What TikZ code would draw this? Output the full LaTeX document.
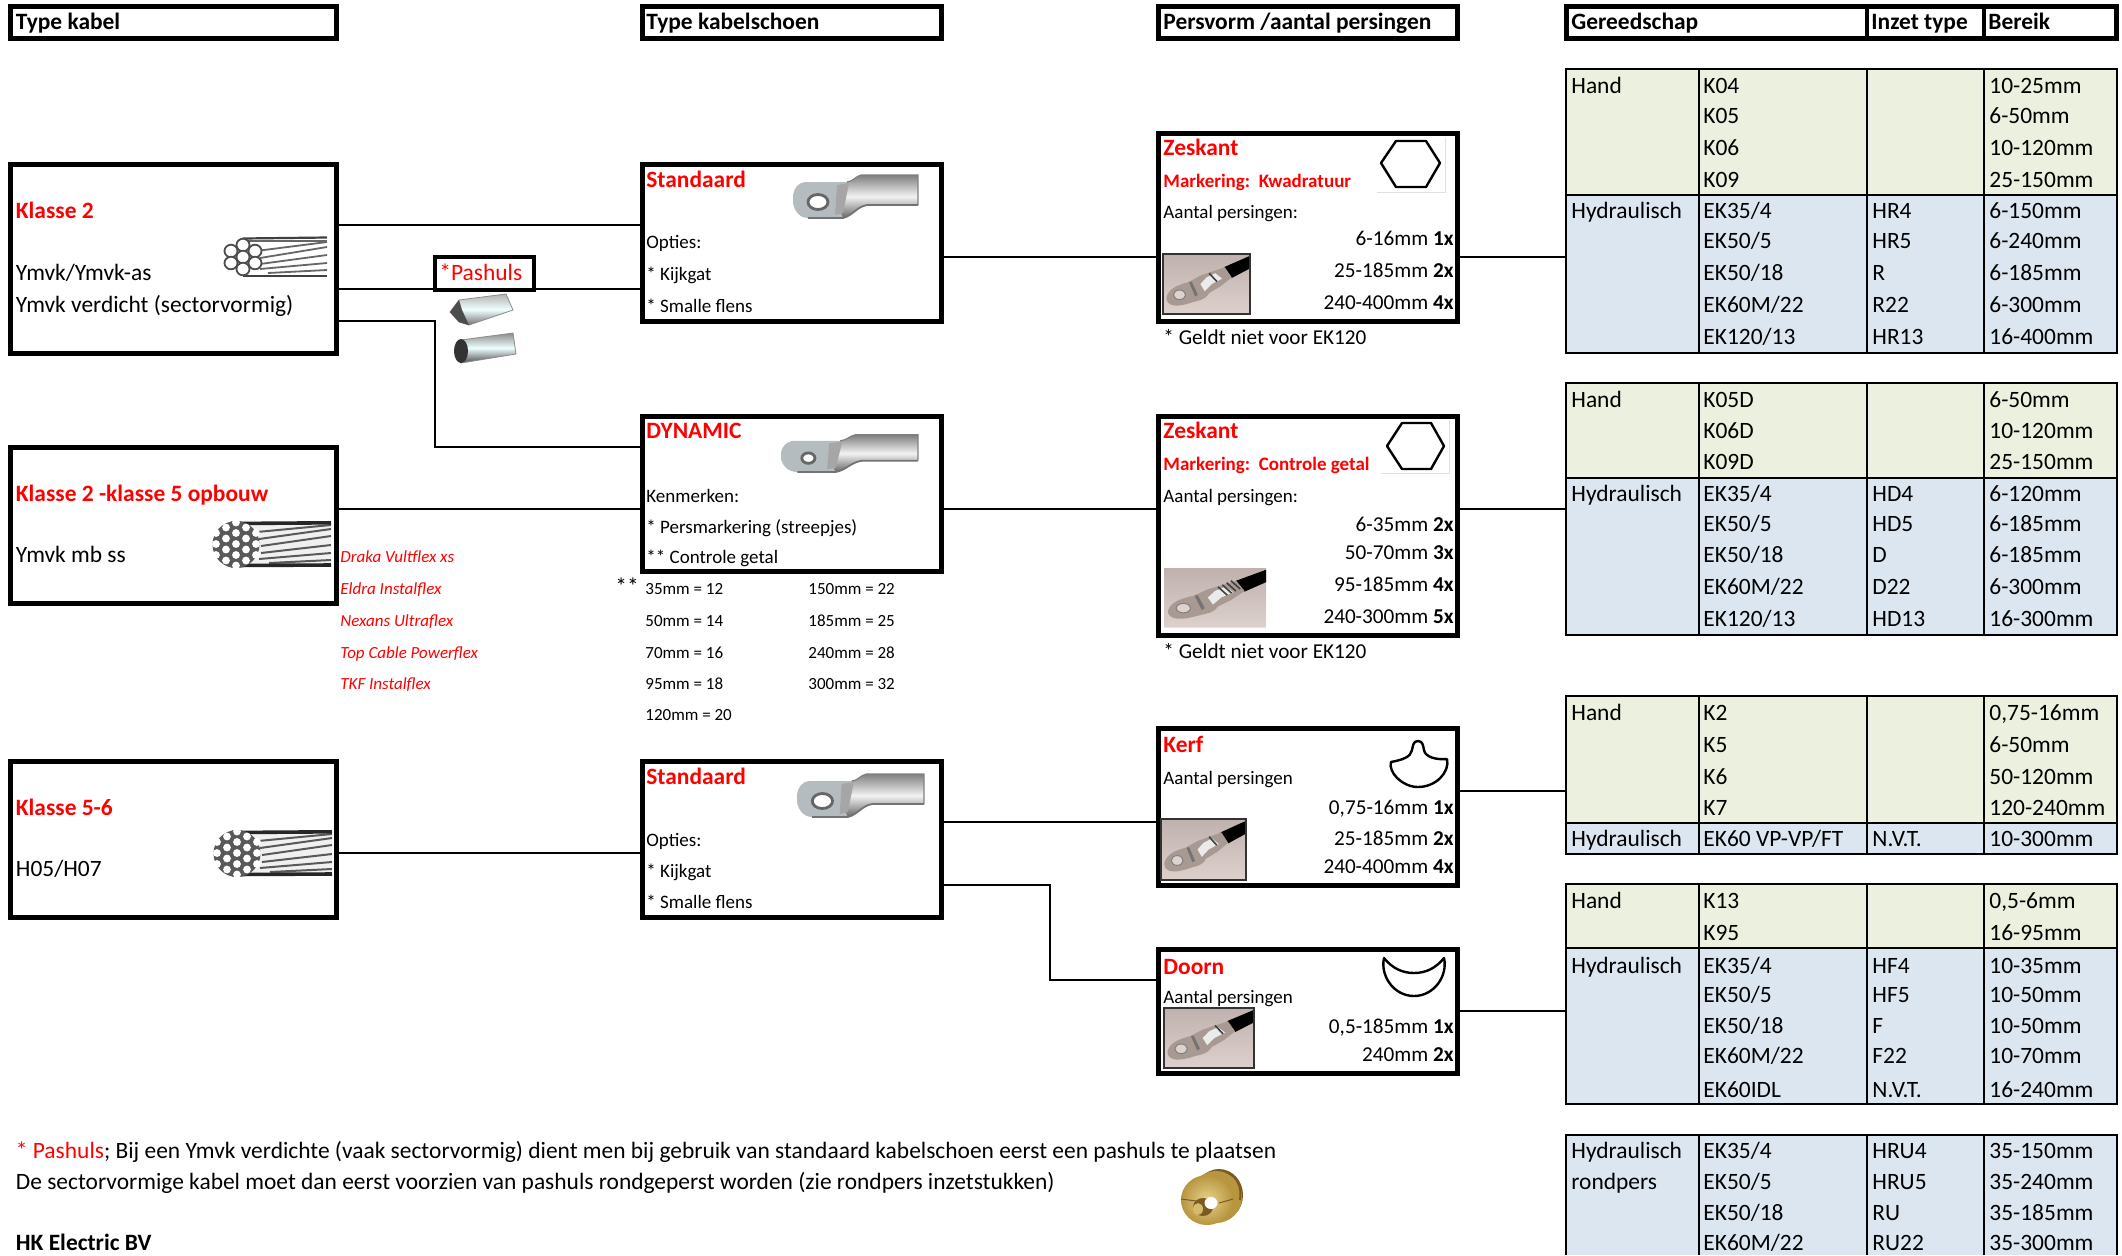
\documentclass[tikz,border=0pt]{standalone}
\usepackage{fontspec}
\setmainfont{Carlito}
\usetikzlibrary{calc}
\definecolor{tgreen}{HTML}{EBF1DE}
\definecolor{tblue}{HTML}{DCE6F1}
\definecolor{hred}{HTML}{FF0000}
\definecolor{photobg}{HTML}{D6C7C3}
\definecolor{lugsilver}{HTML}{B4BCC0}
\definecolor{photolug}{HTML}{A89A92}
\definecolor{brassA}{HTML}{E6D28C}
\definecolor{brassB}{HTML}{B8963F}
\definecolor{brassC}{HTML}{7A5A20}
\newcount\tn
\newcommand\fb{\fontsize{11.72}{13}\selectfont}
\newcommand\fm{\fontsize{10.6}{12}\selectfont}
\newcommand\fs{\fontsize{9.5}{11}\selectfont}
\newcommand\ft{\fontsize{8.5}{10}\selectfont}
\tikzset{
  x=0.5pt,y=-0.5pt,
  boxnode/.style={draw=black,line width=2.5pt,fill=white,rectangle,inner sep=0pt},
  conn/.style={draw=black,line width=1.25pt},
  tline/.style={draw=black,line width=1.1pt},
  base/.style={inner sep=0pt,text height=7.5pt,text depth=0pt,font=\fb,anchor=west,text=black},
  bodytxt/.style={base},
  midtxt/.style={base,font=\fm,text height=6.8pt},
  lefttxt/.style={base,font=\fs,text height=6.1pt},
  righttxt/.style={base,font=\fm,text height=6.8pt,anchor=east},
  redb/.style={base,font=\fb\bfseries,text=hred},
  redm/.style={base,font=\fs\bfseries,text=hred,text height=6.1pt},
  redi/.style={base,font=\ft\itshape,text=hred,text height=5.5pt},
  tinytxt/.style={base,font=\ft,text height=5.5pt},
  headtxt/.style={base,font=\fb\bfseries},
  shapeline/.style={draw=black,line width=1.2pt,fill=white,line join=round},
  framel/.style={draw=black!12,line width=0.4pt},
}
% outer-edge box
\newcommand\bx[5]{\node[boxnode,minimum width={(#4-#2-5)*0.5pt},minimum height={(#5-#3-5)*0.5pt}] (#1) at ({(#2+#4)/2},{(#3+#5)/2}) {};}
\newcommand\tx[4]{\global\advance\tn by 1 \node[#1] (n\the\tn) at (#2,#3) {#4};}
\newcommand\hconn[3]{\draw[conn] (#1.east |- 0,#3) -- (#2.west |- 0,#3);}
\newcommand\trow[5]{%
 \if\relax\detokenize{#2}\relax\else\tx{bodytxt}{1571}{#1}{#2}\fi
 \tx{bodytxt}{1703}{#1}{#3}%
 \if\relax\detokenize{#4}\relax\else\tx{bodytxt}{1872}{#1}{#4}\fi
 \tx{bodytxt}{1989}{#1}{#5}}
% wire, 7 strands: box 105 x 39
\newcommand\wireA[2]{\begin{scope}[shift={(#1,#2)}]
  \foreach \a/\b/\c/\d in {34/13/105/4,38/20/105/9,38/26/105/17,38/31/105/25,46/35/105/32}
    {\draw[black!60,line width=0.9pt] (\a,\b) -- (\c,\d);}
  \draw[black!75,line width=1.1pt] (21,0.5) -- (105,-0.5);
  \draw[black!75,line width=1.1pt] (21,38) -- (105,38);
  \draw[black!60,line width=0.9pt] (26,3) -- (105,3);
  \foreach \p/\q in {21/7,21/19,21/31,9/13,33/13,9/25,33/25}
    {\draw[black!70,line width=0.9pt,fill=white] (\p,\q) ellipse (6.5 and 6.3);}
\end{scope}}
% wire, 19 strands: box 120 x 45
\newcommand\wireB[2]{\begin{scope}[shift={(#1,#2)}]
  \fill[black!6] (24,2) -- (120,0) -- (120,45) -- (24,44) -- cycle;
  \foreach \a/\b/\c/\d in {46/10/120/3,48/17/120/7,50/24/120/14,50/31/120/23,48/37/120/31,58/41/120/38}
    {\draw[black!65,line width=1pt] (\a,\b) -- (\c,\d);}
  \draw[black!85,line width=1.8pt] (20,1.5) -- (120,0.8);
  \draw[black!85,line width=1.8pt] (20,43.5) -- (120,43);
  \fill[black!65] (25,22.5) circle (23.5);
  \foreach \p/\q in {25/22,25/11,25/33,15/16.5,15/27.5,35/16.5,35/27.5,5/22,45/22,5/11,5/33,45/11,45/33,15/5.5,15/38.5,35/5.5,35/38.5,25/0.5,25/43.5}
    {\fill[white] (\p,\q) circle (3.9);}
\end{scope}}
% lug, box 126 x 45; args x y w h holerx holery
\newcommand\lugpic[6]{\begin{scope}[shift={(#1,#2)},xscale={#3/126},yscale={#4/45}]
  \fill[lugsilver] (12,9) -- (54,9) to[out=5,in=195] (68,2) -- (70,32) to[out=190,in=15] (50,45) -- (15,45) to[out=180,in=280] (0,30) -- (0,22) to[out=80,in=185] (12,9) -- cycle;
  \shade[top color=black!50,bottom color=black!60,middle color=black!5]
    (54,9) to[out=5,in=195] (68,2) -- (125,2) -- (125,32) -- (74,32) to[out=190,in=15] (50,45) -- (46,35) -- cycle;
  \fill[black!35] (44,12) -- (56,10) -- (50,40) -- (42,42) -- cycle;
  \draw[black!55,line width=0.9pt] (15,45) -- (50,45) to[out=15,in=190] (74,32) -- (125,32);
  \draw[black!50,line width=0.6pt] (54,9) to[out=5,in=195] (68,2) -- (125,2) -- (125,32);
  \draw[black!60,line width=1.4pt,fill=white] (25,29) ellipse (#5 and #6);
\end{scope}}
% photo of a crimped lug, unit box 100 x 100
\newcommand\photopic[6]{\begin{scope}[shift={(#1,#2)},xscale={#3/100},yscale={#4/100}]
  \fill[photobg] (0,0) rectangle (100,100);
  \shade[top color=photobg!85!black,bottom color=photobg!75!white,opacity=.7] (0,0) rectangle (100,100);
  \fill[black] (100,3) -- (100,24) -- (79,40) -- (70,22) -- cycle;
  \fill[photolug] (71,22) -- (79,39) -- (66,54) -- (53,65) to[out=250,in=20] (40,78) to[out=200,in=0] (14,86) to[out=180,in=260] (4,72) to[out=80,in=200] (29,47) -- (43,36) -- cycle;
  \fill[black!8] (60,32) -- (68,41) -- (56,50) -- (48,62) -- (43,50) -- (50,39) -- cycle;
  \fill[black!55] (30,47) -- (33,46) -- (40,68) -- (37,71) -- cycle;
  \fill[photobg!80!white,draw=black!50,line width=0.5pt] (19,68) ellipse (7 and 8);
  \foreach \t in {#6}{\draw[black!75,line width=0.8pt] ({53+\t*6},{32-\t*5}) -- ({62+\t*6},{46-\t*5});}
  \if#5b\draw[black!80,line width=0.7pt] (0,0) rectangle (100,100);\fi
\end{scope}}
\begin{document}
\begin{tikzpicture}
\useasboundingbox (0,0) rectangle (2122,1255);
\fill[white] (0,0) rectangle (2122,1255);

% headers
\bx{hA}{8}{4}{339}{41}
\bx{hB}{640}{4}{944}{41}
\bx{hC}{1156}{4}{1460}{41}
\bx{hD}{1564}{4}{2119}{41}
\coordinate (hDa) at (1867,4);\coordinate (hDb) at (1867,41);
\coordinate (hDc) at (1984,4);\coordinate (hDd) at (1984,41);
\draw[black,line width=1.6pt] (hDa) -- (hDb) (hDc) -- (hDd);
\tx{headtxt}{15.5}{22}{Type kabel}
\tx{headtxt}{646}{22}{Type kabelschoen}
\tx{headtxt}{1163}{22}{Persvorm /aantal persingen}
\tx{headtxt}{1571}{22}{Gereedschap}
\tx{headtxt}{1871}{22}{Inzet type}
\tx{headtxt}{1988}{22}{Bereik}

% boxes
\bx{kA}{8}{162}{339}{356}
\bx{kB}{8}{445}{339}{606}
\bx{kC}{8}{759}{339}{920}
\bx{sA}{640}{162}{944}{324}
\bx{sB}{640}{414}{944}{574}
\bx{sC}{640}{759}{944}{920}
\bx{zA}{1156}{131}{1460}{324}
\bx{zB}{1156}{414}{1460}{638}
\bx{zC}{1156}{726}{1460}{888}
\bx{zD}{1156}{947}{1460}{1076}
\node[boxnode,line width=2.2pt,minimum width={(536-433-4.4)*0.5pt},minimum height={(292-255-4.4)*0.5pt}] (pash) at (484.5,273.5) {};

% table anchors
\coordinate (tA) at (1566,257);
\coordinate (tB) at (1566,509);
\coordinate (tC) at (1566,791);
\coordinate (tD) at (1566,1011);
\coordinate (elbA) at (435,447);
\coordinate (elbB) at (1050,885);
\coordinate (elbC) at (1050,980);

% connectors
\hconn{kA}{sA}{225}
\draw[conn] (kA.east |- 0,289) -- (pash.west |- 0,289);
\draw[conn] (pash.east |- 0,289) -- (sA.west |- 0,289);
\draw[conn] (kA.east |- 0,321) -| (elbA) -- (sB.west |- elbA);
\hconn{kB}{sB}{509}
\hconn{kC}{sC}{853}
\hconn{sA}{zA}{257}
\hconn{sB}{zB}{509}
\hconn{sC}{zC}{822}
\draw[conn] (sC.east |- elbB) -- (elbB) -- (elbC) -- (zD.west |- elbC);
\draw[conn] (zA.east |- tA) -- (tA);
\draw[conn] (zB.east |- tB) -- (tB);
\draw[conn] (zC.east |- tC) -- (tC);
\draw[conn] (zD.east |- tD) -- (tD);

% left column
\tx{redb}{15.5}{211}{Klasse 2}
\tx{bodytxt}{15.5}{273}{Ymvk/Ymvk-as}
\tx{bodytxt}{15.5}{305}{Ymvk verdicht (sectorvormig)}
\tx{redb}{15.5}{494}{Klasse 2 -klasse 5 opbouw}
\tx{bodytxt}{15.5}{555}{Ymvk mb ss}
\tx{redb}{15.5}{808}{Klasse 5-6}
\tx{bodytxt}{15.5}{869}{H05/H07}
\wireA{222}{238}
\wireB{211}{522}
\wireB{212}{831}
\tx{base,text=hred}{439}{273}{*Pashuls}
% pashuls pictures
\shade[top color=black!30,bottom color=black!55,middle color=cyan!6!white,draw=black!45,line width=0.4pt] (459,300) -- (506,294) -- (513,310) -- (469,325) -- (459,322) -- (450,312) -- cycle;
\fill[black!70] (459,300) -- (450,312) -- (459,322) -- (469,325) -- (462,310) -- cycle;
\shade[top color=black!45,bottom color=black!70,middle color=cyan!6!white,draw=black!45,line width=0.4pt] (461,340) -- (513,333) -- (516,354) -- (461,363) -- cycle;
\fill[black!80] (461,351) ellipse (7 and 12);

% red cable list
\tx{redi}{340}{557}{Draka Vultflex xs}
\tx{redi}{340}{589}{Eldra Instalflex}
\tx{redi}{340}{621}{Nexans Ultraflex}
\tx{redi}{340}{653}{Top Cable Powerflex}
\tx{redi}{340}{684}{TKF Instalflex}

% lug boxes
\tx{redb}{646}{180}{Standaard}
\tx{lefttxt}{646}{242}{Opties:}
\tx{lefttxt}{646}{274}{* Kijkgat}
\tx{lefttxt}{646}{306}{* Smalle flens}
\lugpic{793}{173}{126}{45}{10}{7.5}
\tx{redb}{646}{431}{DYNAMIC}
\tx{lefttxt}{646}{496}{Kenmerken:}
\tx{lefttxt}{646}{527}{* Persmarkering (streepjes)}
\tx{lefttxt}{646}{557}{** Controle getal}
\lugpic{781}{433}{138}{39}{6}{6}
\tx{redb}{646}{777}{Standaard}
\tx{lefttxt}{646}{840}{Opties:}
\tx{lefttxt}{646}{871}{* Kijkgat}
\tx{lefttxt}{646}{902}{* Smalle flens}
\lugpic{797}{772}{128}{45}{10}{7.5}

% control numbers
\tx{bodytxt}{615}{587}{**}
\tx{tinytxt}{645}{589}{35mm = 12}
\tx{tinytxt}{645}{621}{50mm = 14}
\tx{tinytxt}{645}{653}{70mm = 16}
\tx{tinytxt}{645}{684}{95mm = 18}
\tx{tinytxt}{645}{715}{120mm = 20}
\tx{tinytxt}{808}{589}{150mm = 22}
\tx{tinytxt}{808}{621}{185mm = 25}
\tx{tinytxt}{808}{653}{240mm = 28}
\tx{tinytxt}{808}{684}{300mm = 32}

% press forms
\tx{redb}{1163}{148}{Zeskant}
\tx{redm}{1163}{181}{Markering:\ \ Kwadratuur}
\tx{lefttxt}{1163}{212}{Aantal persingen:}
\tx{righttxt}{1454}{239}{6-16mm \textbf{1x}}
\tx{righttxt}{1454}{271}{25-185mm \textbf{2x}}
\tx{righttxt}{1454}{303}{240-400mm \textbf{4x}}
\photopic{1163}{254}{87}{60}{b}{0}
\draw[framel] (1445,138) -- (1445,192) -- (1377,192);
\draw[shapeline] (1381,163) -- (1396,141) -- (1426,141) -- (1440,163) -- (1426,187) -- (1396,187) -- cycle;
\tx{midtxt}{1163}{338}{* Geldt niet voor EK120}

\tx{redb}{1163}{431}{Zeskant}
\tx{redm}{1163}{464}{Markering:\ \ Controle getal}
\tx{lefttxt}{1163}{496}{Aantal persingen:}
\tx{righttxt}{1454}{525}{6-35mm \textbf{2x}}
\tx{righttxt}{1454}{553}{50-70mm \textbf{3x}}
\tx{righttxt}{1454}{585}{95-185mm \textbf{4x}}
\tx{righttxt}{1454}{617}{240-300mm \textbf{5x}}
\photopic{1164}{568}{102}{59}{n}{0,0.7,1.4,2.1}
\draw[framel] (1449,420) -- (1449,473) -- (1381,473);
\draw[shapeline] (1387,446) -- (1402,423) -- (1431,423) -- (1444,446) -- (1431,469) -- (1402,469) -- cycle;
\tx{midtxt}{1163}{652}{* Geldt niet voor EK120}

\tx{redb}{1163}{745}{Kerf}
\tx{lefttxt}{1163}{778}{Aantal persingen}
\tx{righttxt}{1454}{808}{0,75-16mm \textbf{1x}}
\tx{righttxt}{1454}{839}{25-185mm \textbf{2x}}
\tx{righttxt}{1454}{867}{240-400mm \textbf{4x}}
\photopic{1161}{819}{85}{61}{b}{0.6}
\draw[shapeline] (1418,741) .. controls (1413,741) and (1413,746) .. (1412,750) .. controls (1411,757) and (1402,760) .. (1391,762) .. controls (1388,772) and (1402,787) .. (1418,787) .. controls (1436,787) and (1450,772) .. (1447,759) .. controls (1436,760) and (1425,757) .. (1424,750) .. controls (1423,746) and (1423,741) .. (1418,741) -- cycle;

\tx{redb}{1163}{967}{Doorn}
\tx{lefttxt}{1163}{997}{Aantal persingen}
\tx{righttxt}{1454}{1027}{0,5-185mm \textbf{1x}}
\tx{righttxt}{1454}{1055}{240mm \textbf{2x}}
\photopic{1164}{1008}{90}{60}{b}{0.6}
\draw[shapeline] (1384,958) .. controls (1392,968) and (1402,973) .. (1414,973) .. controls (1426,973) and (1436,968) .. (1444,958) .. controls (1448,976) and (1434,996) .. (1414,996) .. controls (1394,996) and (1380,976) .. (1384,958) -- cycle;

% footer
\tx{bodytxt}{15.5}{1151}{\textcolor{hred}{* Pashuls}; Bij een Ymvk verdichte (vaak sectorvormig) dient men bij gebruik van standaard kabelschoen eerst een pashuls te plaatsen}
\tx{bodytxt}{15.5}{1182}{De sectorvormige kabel moet dan eerst voorzien van pashuls rondgeperst worden (zie rondpers inzetstukken)}
\tx{headtxt}{15.5}{1243}{HK Electric BV}
% brass insert
\fill[brassC] (1219,1195) ellipse (24 and 26);
\fill[brassB] (1216,1197) ellipse (26 and 26);
\draw[brassC,line width=1pt] (1226,1172) to[out=-20,in=80] (1240,1200);
\shade[inner color=brassA,outer color=brassB] (1207,1200) ellipse (26 and 25);
\fill[brassC] (1203,1207) ellipse (10 and 9);
\fill[brassA!60!brassB] (1198,1209) ellipse (5 and 6);
\fill[white] (1211,1203) ellipse (6.5 and 6);
\draw[brassC,line width=0.5pt] (1181,1199) -- (1196,1201) (1219,1203) -- (1233,1199);

% tables
\newcommand\tblines[2]{\draw[tline] (1699,#1) -- (1699,#2) (1867,#1) -- (1867,#2) (1984,#1) -- (1984,#2);}
\draw[tline,fill=tgreen] (1566,69) rectangle (2117,195);
\draw[tline,fill=tblue] (1566,195) rectangle (2117,353);
\tblines{69}{353}
\trow{86}{Hand}{K04}{}{10-25mm}
\trow{116}{}{K05}{}{6-50mm}
\trow{148}{}{K06}{}{10-120mm}
\trow{180}{}{K09}{}{25-150mm}
\trow{211}{Hydraulisch}{EK35/4}{HR4}{6-150mm}
\trow{241}{}{EK50/5}{HR5}{6-240mm}
\trow{273}{}{EK50/18}{R}{6-185mm}
\trow{305}{}{EK60M/22}{R22}{6-300mm}
\trow{337}{}{EK120/13}{HR13}{16-400mm}

\draw[tline,fill=tgreen] (1566,383) rectangle (2117,478);
\draw[tline,fill=tblue] (1566,478) rectangle (2117,635);
\tblines{383}{635}
\trow{400}{Hand}{K05D}{}{6-50mm}
\trow{431}{}{K06D}{}{10-120mm}
\trow{462}{}{K09D}{}{25-150mm}
\trow{494}{Hydraulisch}{EK35/4}{HD4}{6-120mm}
\trow{524}{}{EK50/5}{HD5}{6-185mm}
\trow{555}{}{EK50/18}{D}{6-185mm}
\trow{587}{}{EK60M/22}{D22}{6-300mm}
\trow{619}{}{EK120/13}{HD13}{16-300mm}

\draw[tline,fill=tgreen] (1566,696) rectangle (2117,823);
\draw[tline,fill=tblue] (1566,823) rectangle (2117,854);
\tblines{696}{854}
\trow{713}{Hand}{K2}{}{0,75-16mm}
\trow{745}{}{K5}{}{6-50mm}
\trow{777}{}{K6}{}{50-120mm}
\trow{808}{}{K7}{}{120-240mm}
\trow{839}{Hydraulisch}{EK60 VP-VP/FT}{N.V.T.}{10-300mm}

\draw[tline,fill=tgreen] (1566,884) rectangle (2117,948);
\draw[tline,fill=tblue] (1566,948) rectangle (2117,1104);
\tblines{884}{1104}
\trow{901}{Hand}{K13}{}{0,5-6mm}
\trow{933}{}{K95}{}{16-95mm}
\trow{966}{Hydraulisch}{EK35/4}{HF4}{10-35mm}
\trow{995}{}{EK50/5}{HF5}{10-50mm}
\trow{1026}{}{EK50/18}{F}{10-50mm}
\trow{1056}{}{EK60M/22}{F22}{10-70mm}
\trow{1090}{}{EK60IDL}{N.V.T.}{16-240mm}

\fill[tblue] (1566,1135) rectangle (2117,1255);
\draw[tline] (1566,1255) -- (1566,1135) -- (2117,1135) -- (2117,1255);
\tblines{1135}{1255}
\trow{1151}{Hydraulisch}{EK35/4}{HRU4}{35-150mm}
\trow{1182}{rondpers}{EK50/5}{HRU5}{35-240mm}
\trow{1213}{}{EK50/18}{RU}{35-185mm}
\trow{1243}{}{EK60M/22}{RU22}{35-300mm}
\end{tikzpicture}
\end{document}
